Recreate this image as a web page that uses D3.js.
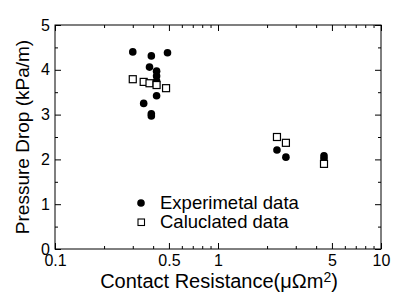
<!DOCTYPE html>
<html lang="en">
<head>
<meta charset="UTF-8">
<title>Pressure Drop vs Contact Resistance</title>
<script src="https://d3js.org/d3.v7.min.js"></script>
<style>
  body { margin: 0; background: #fff; }
  text { font-family: "Liberation Sans", Arial, sans-serif; fill: #000; }
</style>
</head>
<body>
<div id="chart"></div>
<script>
// experimental points (contact resistance, pressure drop)
const expX = [0.30, 0.39, 0.49, 0.38, 0.42, 0.42, 0.42, 0.42, 0.35, 0.39, 0.39, 2.30, 2.61, 4.47, 4.47];
const expY = [4.40, 4.31, 4.38, 4.06, 3.97, 3.86, 3.75, 3.42, 3.25, 3.02, 2.97, 2.21, 2.05, 2.08, 2.02];
// calculated points
const calcX = [0.30, 0.35, 0.38, 0.42, 0.48, 2.30, 2.61, 4.47];
const calcY = [3.79, 3.73, 3.70, 3.66, 3.59, 2.50, 2.37, 1.90];

const xMajor = [0.1, 0.5, 1, 5, 10];
const xMinor = [0.2, 0.3, 0.4, 0.6, 0.7, 0.8, 0.9, 2, 3, 4, 6, 7, 8, 9];
const yMajor = [0, 1, 2, 3, 4, 5];
const yMinor = [0.5, 1.5, 2.5, 3.5, 4.5];

const W = 393, H = 293;
const margin = { top: 25, right: 12, bottom: 44, left: 55 };
const width = W - margin.left - margin.right;
const height = H - margin.top - margin.bottom;

const svg = d3.select("#chart").append("svg")
    .attr("width", W).attr("height", H);
const g = svg.append("g")
    .attr("transform", `translate(${margin.left},${margin.top})`);

const x = d3.scaleLog().domain([0.1, 10]).range([0, width]);
const y = d3.scaleLinear().domain([0, 5]).range([height, 0]);

// frame
g.append("rect")
    .attr("width", width).attr("height", height)
    .attr("fill", "none").attr("stroke", "#000").attr("stroke-width", 1);

function styleAxis(sel) {
    sel.select(".domain").remove();
    sel.selectAll("line").attr("stroke", "#000");
    sel.selectAll("text").style("font-size", "16px").attr("fill", "#000");
}

// bottom axis
g.append("g").attr("transform", `translate(0,${height})`)
    .call(d3.axisBottom(x).tickValues(xMajor).tickSize(-6).tickPadding(6)
        .tickFormat(d => String(d)))
    .call(styleAxis);
g.append("g").attr("transform", `translate(0,${height})`)
    .call(d3.axisBottom(x).tickValues(xMinor).tickSize(-3).tickFormat(""))
    .call(styleAxis);
// top axis
g.append("g")
    .call(d3.axisTop(x).tickValues(xMajor).tickSize(-6).tickFormat(""))
    .call(styleAxis);
g.append("g")
    .call(d3.axisTop(x).tickValues(xMinor).tickSize(-3).tickFormat(""))
    .call(styleAxis);

// left axis
g.append("g")
    .call(d3.axisLeft(y).tickValues(yMajor).tickSize(-6).tickPadding(5)
        .tickFormat(d3.format("d")))
    .call(styleAxis);
g.append("g")
    .call(d3.axisLeft(y).tickValues(yMinor).tickSize(-3).tickFormat(""))
    .call(styleAxis);
// right axis
g.append("g").attr("transform", `translate(${width},0)`)
    .call(d3.axisRight(y).tickValues(yMajor).tickSize(-6).tickFormat(""))
    .call(styleAxis);
g.append("g").attr("transform", `translate(${width},0)`)
    .call(d3.axisRight(y).tickValues(yMinor).tickSize(-3).tickFormat(""))
    .call(styleAxis);

// points
const expData = expX.map((v, i) => ({ x: v, y: expY[i] }));
const calcData = calcX.map((v, i) => ({ x: v, y: calcY[i] }));

g.append("g").selectAll("circle")
    .data(expData).join("circle")
    .attr("cx", d => x(d.x))
    .attr("cy", d => y(d.y))
    .attr("r", 3.8)
    .attr("fill", "#000");

const sq = 7;
g.append("g").selectAll("rect")
    .data(calcData).join("rect")
    .attr("x", d => x(d.x) - sq / 2)
    .attr("y", d => y(d.y) - sq / 2)
    .attr("width", sq).attr("height", sq)
    .attr("fill", "#fff").attr("stroke", "#000").attr("stroke-width", 1.2);

// legend
const leg = svg.append("g");
leg.append("circle").attr("cx", 141).attr("cy", 203).attr("r", 3.8).attr("fill", "#000");
leg.append("text").attr("x", 160).attr("y", 209).style("font-size", "18.5px")
    .text("Experimetal data");
leg.append("rect").attr("x", 138).attr("y", 219).attr("width", 6.5).attr("height", 6.5)
    .attr("fill", "#fff").attr("stroke", "#000").attr("stroke-width", 1.1);
leg.append("text").attr("x", 160).attr("y", 228).style("font-size", "18.5px")
    .text("Caluclated data");

// axis titles
const xt = svg.append("text")
    .attr("x", margin.left + width / 2 + 1).attr("y", 288)
    .attr("text-anchor", "middle").style("font-size", "20px");
xt.append("tspan").text("Contact Resistance(\u03bc\u03a9m");
xt.append("tspan").attr("dy", -6).style("font-size", "14px").text("2");
xt.append("tspan").attr("dy", 6).text(")");

svg.append("text")
    .attr("transform", `translate(29,${margin.top + height / 2}) rotate(-90)`)
    .attr("text-anchor", "middle").style("font-size", "19px")
    .text("Pressure Drop (kPa/m)");
</script>
</body>
</html>
